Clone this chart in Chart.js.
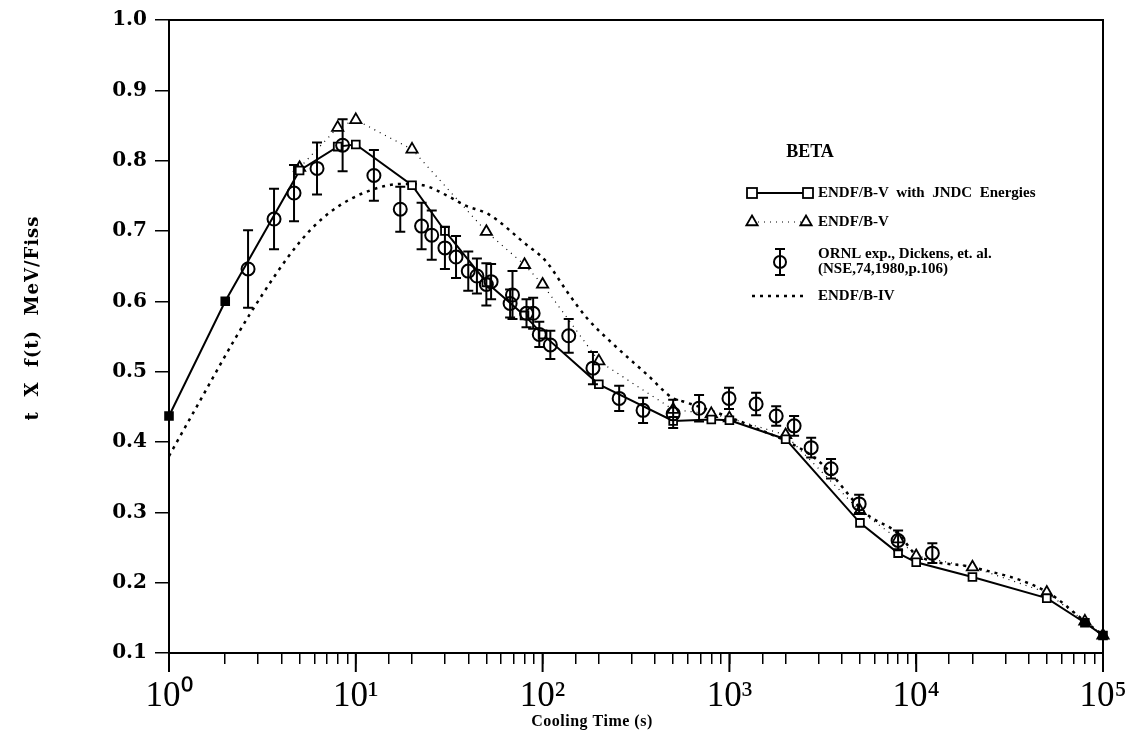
<!DOCTYPE html>
<html>
<head>
<meta charset="utf-8">
<script src="https://cdn.jsdelivr.net/npm/chart.js@4.4.0/dist/chart.umd.min.js"></script>
<style>
html, body { margin: 0; padding: 0; background: #fff; }
canvas { display: block; }
</style>
</head>
<body>
<canvas id="betaChart" width="1132" height="739"></canvas>
<script>
// cooling time (s) -> t x f(t) (MeV/fission)
const jndcTime = [1, 2, 5, 8, 10, 20, 30, 50, 80, 100, 200, 500, 800, 1000, 2000, 5000, 8000, 10000, 20000, 50000, 80000, 100000];
const jndcBeta = [0.437, 0.600, 0.786, 0.820, 0.823, 0.765, 0.700, 0.627, 0.580, 0.553, 0.482, 0.430, 0.432, 0.431, 0.404, 0.285, 0.242, 0.229, 0.208, 0.178, 0.143, 0.125];
const jndcFilled = [1, 2, 80000, 100000];

const endfTime = [5, 8, 10, 20, 50, 80, 100, 200, 500, 800, 1000, 2000, 5000, 8000, 10000, 20000, 50000, 80000, 100000];
const endfBeta = [0.790, 0.847, 0.858, 0.816, 0.699, 0.652, 0.624, 0.515, 0.446, 0.440, 0.434, 0.410, 0.302, 0.262, 0.238, 0.222, 0.186, 0.145, 0.125];

const ivTime = [1, 1.3, 2.7, 5, 7.3, 12, 18, 23, 32, 38, 52, 79, 105, 135, 173, 239, 362, 500, 560, 1300, 3000, 5400, 8000, 10000, 20000, 50000, 80000, 100000];
const ivBeta = [0.380, 0.434, 0.581, 0.684, 0.727, 0.758, 0.767, 0.765, 0.748, 0.737, 0.723, 0.684, 0.656, 0.614, 0.576, 0.539, 0.496, 0.462, 0.458, 0.423, 0.373, 0.298, 0.270, 0.240, 0.222, 0.187, 0.145, 0.125];

const ornlTime = [2.65, 3.65, 4.67, 6.2, 8.5, 12.5, 17.3, 22.5, 25.5, 30, 34.4, 40, 44.5, 50, 53, 67, 69, 82, 89, 96, 110, 138, 186, 257, 345, 500, 688, 995, 1390, 1780, 2220, 2740, 3500, 4950, 8000, 12200];
const ornlBeta = [0.646, 0.717, 0.754, 0.789, 0.822, 0.779, 0.731, 0.707, 0.694, 0.676, 0.663, 0.643, 0.636, 0.624, 0.628, 0.597, 0.609, 0.583, 0.583, 0.553, 0.538, 0.551, 0.505, 0.462, 0.445, 0.440, 0.448, 0.462, 0.454, 0.437, 0.423, 0.392, 0.362, 0.312, 0.260, 0.242];
const ornlErr = [0.055, 0.043, 0.040, 0.037, 0.037, 0.036, 0.032, 0.033, 0.035, 0.030, 0.030, 0.028, 0.025, 0.030, 0.025, 0.020, 0.034, 0.020, 0.022, 0.018, 0.020, 0.024, 0.023, 0.018, 0.018, 0.020, 0.019, 0.015, 0.016, 0.014, 0.014, 0.014, 0.014, 0.013, 0.014, 0.014];

const yTicks = [0.1, 0.2, 0.3, 0.4, 0.5, 0.6, 0.7, 0.8, 0.9, 1.0];
const supDigits = ['\u2070', '\u00b9', '\u00b2', '\u00b3', '\u2074', '\u2075'];

const pts = (xs, ys) => xs.map((t, i) => ({ x: t, y: ys[i] }));
const isDecade = v => Math.abs(Math.log10(v) - Math.round(Math.log10(v))) < 1e-9;

// error bars, box frame, longer decade ticks, axis titles
const extras = {
    id: 'extras',
    afterDatasetsDraw(chart) {
        const ctx = chart.ctx;
        const x = chart.scales.x, y = chart.scales.y;
        const area = chart.chartArea;
        ctx.save();
        ctx.strokeStyle = '#000';
        ctx.lineWidth = 2;
        ornlTime.forEach((t, i) => {
            const px = x.getPixelForValue(t);
            const top = y.getPixelForValue(ornlBeta[i] + ornlErr[i]);
            const bot = y.getPixelForValue(ornlBeta[i] - ornlErr[i]);
            ctx.beginPath();
            ctx.moveTo(px, top); ctx.lineTo(px, bot);
            ctx.moveTo(px - 5, top); ctx.lineTo(px + 5, top);
            ctx.moveTo(px - 5, bot); ctx.lineTo(px + 5, bot);
            ctx.stroke();
        });
        ctx.strokeRect(area.left, area.top, area.right - area.left, area.bottom - area.top);
        x.ticks.forEach(tk => {
            if (isDecade(tk.value)) {
                const px = x.getPixelForValue(tk.value);
                ctx.beginPath();
                ctx.moveTo(px, area.bottom); ctx.lineTo(px, area.bottom + 19);
                ctx.stroke();
            }
        });
        ctx.fillStyle = '#000';
        ctx.textAlign = 'center';
        ctx.textBaseline = 'middle';
        ctx.font = 'bold 16px "Liberation Serif"';
        ctx.letterSpacing = '0.5px';
        ctx.fillText('Cooling Time (s)', 592, 722);
        ctx.translate(33, 318);
        ctx.rotate(-Math.PI / 2);
        ctx.font = 'bold 18px "DejaVu Serif"';
        ctx.letterSpacing = '1px';
        ctx.fillText('t  X  f(t)  MeV/Fiss', 0, 0);
        ctx.restore();
    }
};

function drawSquare(ctx, cx, cy, r, fill) {
    ctx.fillStyle = fill;
    ctx.fillRect(cx - r, cy - r, 2 * r, 2 * r);
    ctx.strokeRect(cx - r, cy - r, 2 * r, 2 * r);
}
function drawTriangle(ctx, cx, cy, r) {
    ctx.beginPath();
    ctx.moveTo(cx, cy - r);
    ctx.lineTo(cx + r * 0.87, cy + r * 0.5);
    ctx.lineTo(cx - r * 0.87, cy + r * 0.5);
    ctx.closePath();
    ctx.fillStyle = '#fff';
    ctx.fill();
    ctx.stroke();
}

const legendBox = {
    id: 'legendBox',
    afterDraw(chart) {
        const ctx = chart.ctx;
        ctx.save();
        ctx.strokeStyle = '#000';
        ctx.fillStyle = '#000';
        ctx.textBaseline = 'middle';
        ctx.font = 'bold 18px "Liberation Serif"';
        ctx.textAlign = 'center';
        ctx.fillText('BETA', 810, 152);

        // row 1: solid with squares
        ctx.lineWidth = 2;
        ctx.beginPath(); ctx.moveTo(752, 193); ctx.lineTo(808, 193); ctx.stroke();
        ctx.lineWidth = 1.8;
        drawSquare(ctx, 752, 193, 5, '#fff');
        drawSquare(ctx, 808, 193, 5, '#fff');

        // row 2: dotted with triangles
        ctx.lineWidth = 1.2;
        ctx.setLineDash([1, 5]);
        ctx.beginPath(); ctx.moveTo(752, 222); ctx.lineTo(806, 222); ctx.stroke();
        ctx.setLineDash([]);
        ctx.lineWidth = 1.8;
        drawTriangle(ctx, 752, 222, 6.5);
        drawTriangle(ctx, 806, 222, 6.5);

        // row 3: circle with error bar
        ctx.lineWidth = 2;
        ctx.beginPath();
        ctx.arc(780, 262, 6, 0, Math.PI * 2);
        ctx.moveTo(780, 249); ctx.lineTo(780, 275);
        ctx.moveTo(775, 249); ctx.lineTo(785, 249);
        ctx.moveTo(775, 275); ctx.lineTo(785, 275);
        ctx.stroke();

        // row 4: ENDF/B-IV dashed
        ctx.lineWidth = 2.5;
        ctx.setLineDash([3, 5]);
        ctx.beginPath(); ctx.moveTo(752, 296); ctx.lineTo(808, 296); ctx.stroke();
        ctx.setLineDash([]);

        ctx.fillStyle = '#000';
        ctx.textAlign = 'left';
        ctx.font = 'bold 15px "Liberation Serif"';
        ctx.fillText('ENDF/B-V  with  JNDC  Energies', 818, 193);
        ctx.fillText('ENDF/B-V', 818, 222);
        ctx.fillText('ORNL exp., Dickens, et. al.', 818, 254);
        ctx.fillText('(NSE,74,1980,p.106)', 818, 269);
        ctx.fillText('ENDF/B-IV', 818, 296);
        ctx.restore();
    }
};

new Chart(document.getElementById('betaChart').getContext('2d'), {
    type: 'line',
    data: {
        datasets: [
            {
                label: 'ORNL exp., Dickens, et. al.',
                data: pts(ornlTime, ornlBeta),
                showLine: false,
                pointStyle: 'circle',
                pointRadius: 6.5,
                pointBorderWidth: 2,
                pointBorderColor: '#000',
                pointBackgroundColor: 'rgba(0,0,0,0)'
            },
            {
                label: 'ENDF/B-V with JNDC Energies',
                data: pts(jndcTime, jndcBeta),
                clip: false,
                borderColor: '#000',
                borderWidth: 2,
                pointStyle: 'rect',
                pointRadius: 5.5,
                pointBorderWidth: 1.8,
                pointBorderColor: '#000',
                pointBackgroundColor: jndcTime.map(t => jndcFilled.includes(t) ? '#000' : '#fff')
            },
            {
                label: 'ENDF/B-V',
                data: pts(endfTime, endfBeta),
                clip: false,
                borderColor: '#000',
                borderWidth: 1.2,
                borderDash: [1, 5],
                pointStyle: 'triangle',
                pointRadius: 6.5,
                pointBorderWidth: 1.8,
                pointBorderColor: '#000',
                pointBackgroundColor: '#fff'
            },
            {
                label: 'ENDF/B-IV',
                data: pts(ivTime, ivBeta),
                borderColor: '#000',
                borderWidth: 2.5,
                borderDash: [3, 5],
                cubicInterpolationMode: 'monotone',
                pointRadius: 0
            }
        ]
    },
    options: {
        responsive: false,
        animation: false,
        layout: { padding: { left: 0, right: 29, top: 17, bottom: 0 } },
        plugins: {
            legend: { display: false },
            tooltip: { enabled: false }
        },
        scales: {
            x: {
                type: 'logarithmic',
                min: 1,
                max: 100000,
                border: { display: true, color: '#000', width: 2 },
                grid: { drawOnChartArea: false, drawTicks: true, tickLength: 11, color: '#000', lineWidth: 1.5 },
                ticks: {
                    autoSkip: false,
                    maxRotation: 0,
                    padding: 12,
                    color: '#000',
                    font: { family: 'Liberation Serif', size: 35 },
                    callback: v => isDecade(v) ? '10' + supDigits[Math.round(Math.log10(v))] : ''
                },
                afterFit: s => { s.height = 86; s.paddingLeft = 0; s.paddingRight = 0; }
            },
            y: {
                type: 'linear',
                min: 0.1,
                max: 1.0,
                border: { display: true, color: '#000', width: 2 },
                grid: { drawOnChartArea: false, drawTicks: true, tickLength: 14, color: '#000', lineWidth: 1.5 },
                afterBuildTicks: s => { s.ticks = yTicks.map(v => ({ value: v })); },
                ticks: {
                    color: '#000',
                    padding: 8,
                    font: { family: 'DejaVu Serif', size: 20, weight: 'bold' },
                    callback: v => v.toFixed(1)
                },
                afterFit: s => { s.width = 169; }
            }
        }
    },
    plugins: [extras, legendBox]
});
</script>
</body>
</html>
